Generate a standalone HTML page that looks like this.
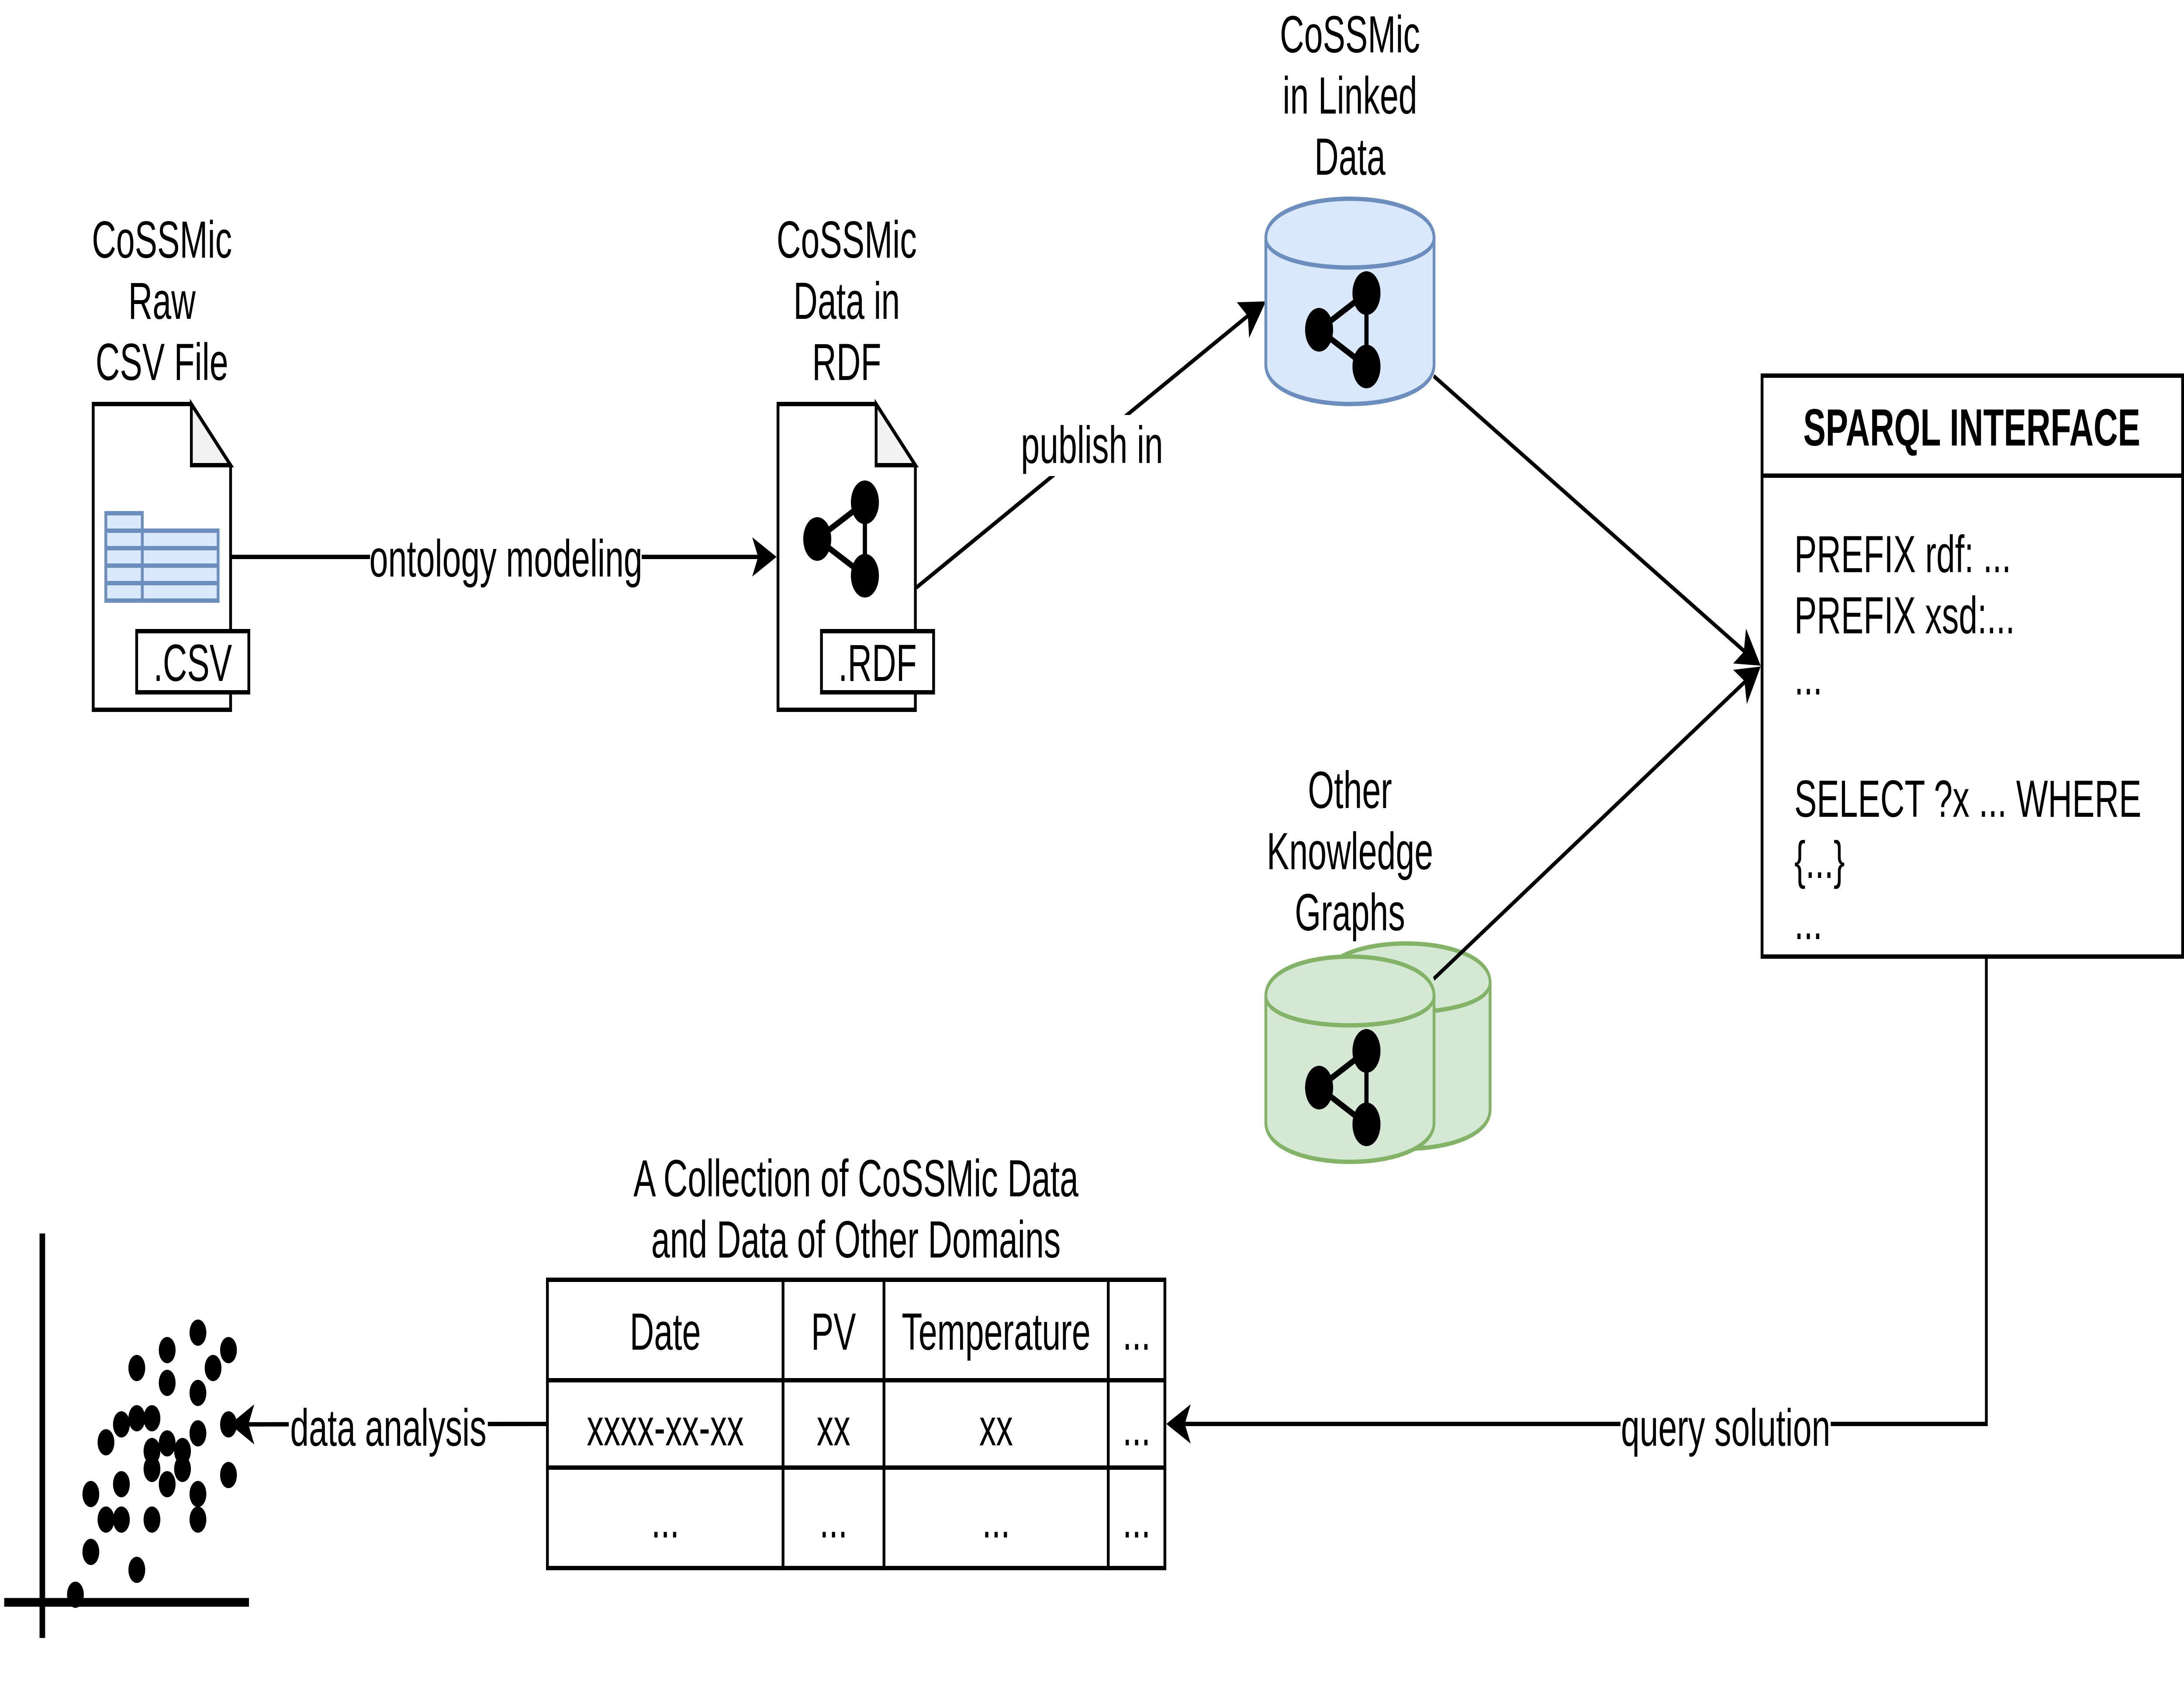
<!DOCTYPE html>
<html lang="en">
<head>
<meta charset="utf-8">
<title>CoSSMic Linked Data Diagram</title>
<style>
html,body{margin:0;padding:0;background:#fff;width:100%;height:100%;overflow:hidden;}
svg{display:block;width:100vw;height:100vh;}
text{font-family:"Liberation Sans",Arial,sans-serif;font-size:120px;fill:#000;}
.c{text-anchor:middle;}
.k{fill:none;stroke:#000;stroke-width:10;}
.dot circle{fill:#000;stroke:none;}
</style>
</head>
<body>
<svg xmlns="http://www.w3.org/2000/svg" viewBox="0 0 7790 3860" preserveAspectRatio="none">
<rect x="0" y="0" width="7790" height="3860" fill="#fff"/>

<!-- Raw CSV document -->
<text class="c" x="577.5" y="590">CoSSMic</text>
<text class="c" x="577.5" y="730">Raw</text>
<text class="c" x="577.5" y="870">CSV File</text>
<path d="M332.5 925H682.5L822.5 1065V1625H332.5Z" fill="#fff" stroke="#000" stroke-width="10"/>
<path d="M682.5 925V1065H822.5Z" fill="#f2f2f2" stroke="#000" stroke-width="10"/>
<g fill="#dae8fc" stroke="#6c8ebf" stroke-width="10">
  <rect x="377.5" y="1215" width="400.5" height="160"/>
  <rect x="377.5" y="1175" width="130" height="200"/>
  <path d="M377.5 1215H507.5M377.5 1255H778M377.5 1295H778M377.5 1335H778" fill="none"/>
</g>
<rect x="487.5" y="1445" width="400" height="140" fill="#fff" stroke="#000" stroke-width="10"/>
<text class="c" x="687.5" y="1559">.CSV</text>

<!-- RDF document -->
<text class="c" x="3020" y="590">CoSSMic</text>
<text class="c" x="3020" y="730">Data in</text>
<text class="c" x="3020" y="870">RDF</text>
<path d="M2775 925H3125L3265 1065V1625H2775Z" fill="#fff" stroke="#000" stroke-width="10"/>
<path d="M3125 925V1065H3265Z" fill="#f2f2f2" stroke="#000" stroke-width="10"/>
<g>
  <path d="M2915 1234L3085 1150V1318Z" fill="none" stroke="#000" stroke-width="15"/>
  <circle cx="2915" cy="1234" r="50" fill="#000"/>
  <circle cx="3085" cy="1150" r="50" fill="#000"/>
  <circle cx="3085" cy="1318" r="50" fill="#000"/>
</g>
<rect x="2930" y="1445" width="400" height="140" fill="#fff" stroke="#000" stroke-width="10"/>
<text class="c" x="3130" y="1559">.RDF</text>

<!-- Connector: ontology modeling -->
<line x1="827" y1="1275" x2="2710" y2="1275" class="k"/>
<polygon points="2770,1275 2683,1230 2704,1275 2683,1320" fill="#000"/>
<rect x="1320" y="1210" width="969" height="140" fill="#fff"/>
<text class="c" x="1804.5" y="1320">ontology modeling</text>

<!-- Connector: publish in -->
<line x1="3269" y1="1345" x2="4455" y2="721" class="k"/>
<polygon points="4515,690 4411.5,692 4451,724 4455.5,773.6" fill="#000"/>
<rect x="3642" y="950" width="506" height="140" fill="#fff"/>
<text class="c" x="3895" y="1060">publish in</text>

<!-- Blue cylinder -->
<text class="c" x="4815" y="120">CoSSMic</text>
<text class="c" x="4815" y="260">in Linked</text>
<text class="c" x="4815" y="400">Data</text>
<path d="M4515 545C4515 425 5115 425 5115 545V835C5115 955 4515 955 4515 835Z" fill="#dae8fc" stroke="#6c8ebf" stroke-width="10"/>
<path d="M4515 545C4515 635 5115 635 5115 545" fill="none" stroke="#6c8ebf" stroke-width="10"/>
<g>
  <path d="M4705 755L4874 671V839Z" fill="none" stroke="#000" stroke-width="15"/>
  <circle cx="4705" cy="755" r="50" fill="#000"/>
  <circle cx="4874" cy="671" r="50" fill="#000"/>
  <circle cx="4874" cy="839" r="50" fill="#000"/>
</g>

<!-- Green cylinders -->
<text class="c" x="4815" y="1850">Other</text>
<text class="c" x="4815" y="1990">Knowledge</text>
<text class="c" x="4815" y="2130">Graphs</text>
<path d="M4715 2250C4715 2130 5315 2130 5315 2250V2540C5315 2660 4715 2660 4715 2540Z" fill="#d5e8d4" stroke="#82b366" stroke-width="10"/>
<path d="M4715 2250C4715 2340 5315 2340 5315 2250" fill="none" stroke="#82b366" stroke-width="10"/>
<path d="M4515 2280C4515 2160 5115 2160 5115 2280V2570C5115 2690 4515 2690 4515 2570Z" fill="#d5e8d4" stroke="#82b366" stroke-width="10"/>
<path d="M4515 2280C4515 2370 5115 2370 5115 2280" fill="none" stroke="#82b366" stroke-width="10"/>
<g>
  <path d="M4705 2490L4874 2406V2574Z" fill="none" stroke="#000" stroke-width="15"/>
  <circle cx="4705" cy="2490" r="50" fill="#000"/>
  <circle cx="4874" cy="2406" r="50" fill="#000"/>
  <circle cx="4874" cy="2574" r="50" fill="#000"/>
</g>

<!-- SPARQL interface -->
<rect x="6285" y="860" width="1500" height="1330" fill="#fff" stroke="#000" stroke-width="10"/>
<line x1="6285" y1="1089" x2="7785" y2="1089" class="k"/>
<text class="c" x="7033" y="1020" font-weight="700" style="font-weight:700">SPARQL INTERFACE</text>
<text x="6400" y="1310">PREFIX rdf: ...</text>
<text x="6400" y="1450">PREFIX xsd:...</text>
<text x="6400" y="1590">...</text>
<text x="6400" y="1870">SELECT ?x ... WHERE</text>
<text x="6400" y="2010">{...}</text>
<text x="6400" y="2150">...</text>

<!-- Connectors into SPARQL -->
<line x1="5114" y1="861" x2="6222" y2="1491" class="k"/>
<polygon points="6280,1524 6227.7,1439 6220,1492 6182,1519" fill="#000"/>
<line x1="5114" y1="2241" x2="6224" y2="1561" class="k"/>
<polygon points="6280,1526 6182,1533.5 6222,1559 6230.7,1612" fill="#000"/>

<!-- Connector: query solution -->
<path d="M7085 2190V3260H4220" class="k"/>
<polygon points="4160,3260 4247,3215 4226,3260 4247,3305" fill="#000"/>
<rect x="5780" y="3195" width="750" height="140" fill="#fff"/>
<text class="c" x="6155" y="3310">query solution</text>

<!-- Table -->
<text class="c" x="3053" y="2739">A Collection of CoSSMic Data</text>
<text class="c" x="3053" y="2879">and Data of Other Domains</text>
<rect x="1952.5" y="2930" width="2202.5" height="660" fill="#fff" stroke="#000" stroke-width="10"/>
<path d="M1952.5 3160H4155M1952.5 3360H4155M2793 2930V3590M3153 2930V3590M3953 2930V3590" class="k"/>
<text class="c" x="2373" y="3090">Date</text>
<text class="c" x="2973" y="3090">PV</text>
<text class="c" x="3553" y="3090">Temperature</text>
<text class="c" x="4054" y="3090">...</text>
<text class="c" x="2373" y="3309">xxxx-xx-xx</text>
<text class="c" x="2973" y="3309">xx</text>
<text class="c" x="3553" y="3309">xx</text>
<text class="c" x="4054" y="3309">...</text>
<text class="c" x="2373" y="3520">...</text>
<text class="c" x="2973" y="3520">...</text>
<text class="c" x="3553" y="3520">...</text>
<text class="c" x="4054" y="3520">...</text>

<!-- Connector: data analysis -->
<line x1="1953" y1="3260" x2="880" y2="3261" class="k"/>
<polygon points="820,3261 907,3215 886,3261 907,3307" fill="#000"/>
<rect x="1030" y="3195" width="710" height="140" fill="#fff"/>
<text class="c" x="1385" y="3310">data analysis</text>

<!-- Scatter chart -->
<g class="dot">
<circle cx="706" cy="3051" r="30"/>
<circle cx="596.3" cy="3091" r="30"/>
<circle cx="815" cy="3091" r="30"/>
<circle cx="488" cy="3132" r="30"/>
<circle cx="760" cy="3132" r="30"/>
<circle cx="596.3" cy="3166" r="30"/>
<circle cx="706" cy="3189" r="30"/>
<circle cx="488" cy="3247" r="30"/>
<circle cx="542" cy="3247" r="30"/>
<circle cx="433" cy="3261" r="30"/>
<circle cx="815" cy="3261" r="30"/>
<circle cx="378" cy="3302" r="30"/>
<circle cx="706" cy="3281.5" r="30"/>
<circle cx="596.3" cy="3304.5" r="30"/>
<circle cx="542" cy="3322" r="30"/>
<circle cx="651" cy="3322" r="30"/>
<circle cx="542" cy="3363" r="30"/>
<circle cx="651" cy="3363" r="30"/>
<circle cx="433" cy="3398" r="30"/>
<circle cx="596.3" cy="3398" r="30"/>
<circle cx="815" cy="3377" r="30"/>
<circle cx="324" cy="3420.5" r="30"/>
<circle cx="706" cy="3420.5" r="30"/>
<circle cx="378" cy="3479" r="30"/>
<circle cx="433" cy="3479" r="30"/>
<circle cx="542" cy="3479" r="30"/>
<circle cx="706" cy="3479" r="30"/>
<circle cx="324" cy="3553" r="30"/>
<circle cx="488" cy="3594" r="30"/>
<circle cx="269" cy="3651" r="30"/>
</g>
<line x1="151" y1="2824" x2="151" y2="3750" stroke="#000" stroke-width="20"/>
<line x1="15" y1="3668.5" x2="888" y2="3668.5" stroke="#000" stroke-width="20"/>
</svg>
</body>
</html>
